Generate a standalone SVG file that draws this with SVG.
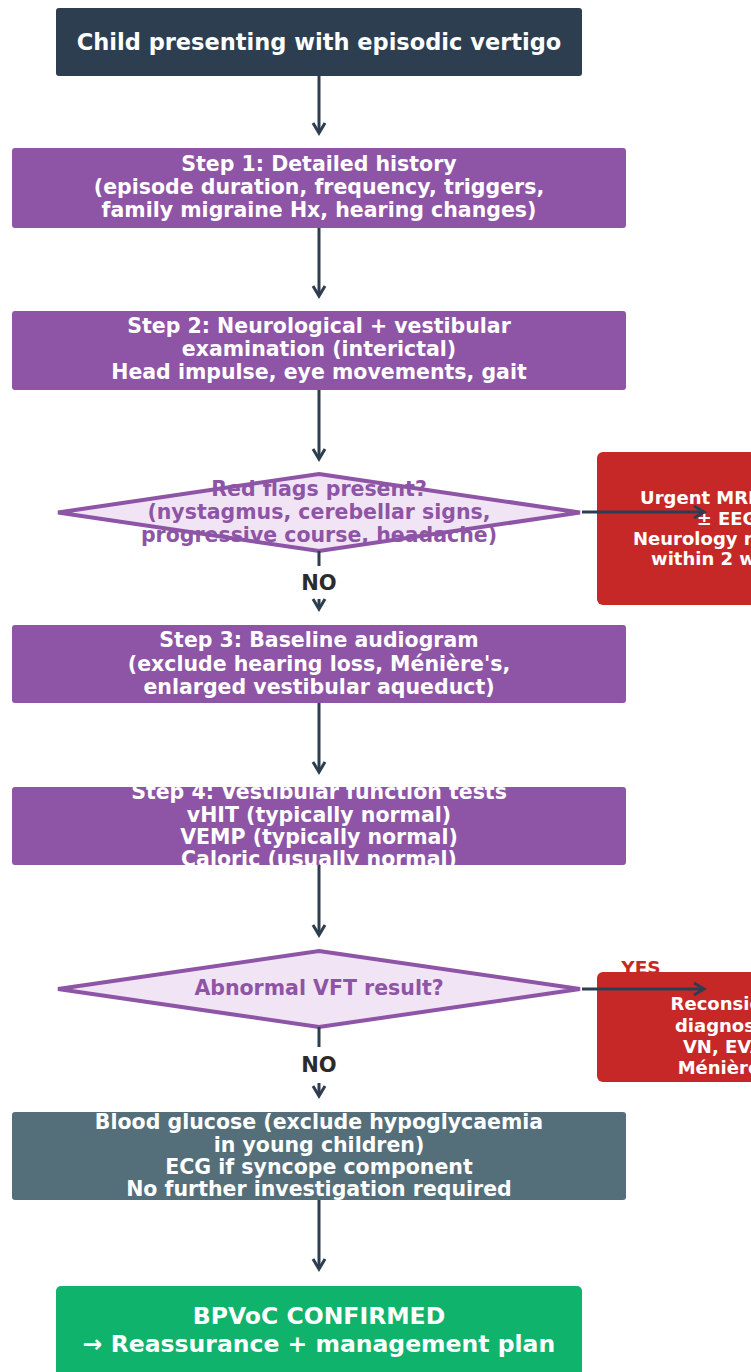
<svg xmlns="http://www.w3.org/2000/svg" width="751" height="1372" viewBox="0 0 751 1372">
  <style>
    text { font-family: "DejaVu Sans", "Liberation Sans", sans-serif; font-weight: bold; text-anchor: middle; }
    .w { fill: #ffffff; }
    .step { font-size: 20.5px; }
    .dq { font-size: 20.5px; fill: #8e54a6; }
    .red { font-size: 18px; }
    .lbl { font-size: 21px; fill: #2b2b2b; }
    .yes { font-size: 18.5px; fill: #c62828; }
    .box { stroke: none; }
    .purple { fill: #8e54a6; }
    .alert { fill: #c62828; }
    .diamond { fill: #f1e5f5; stroke: #8e54a6; stroke-width: 4; stroke-linejoin: miter; }
    .conn { fill: none; stroke: #2c3e50; stroke-width: 3; }
  </style>
  <defs>
    <marker id="head" markerUnits="userSpaceOnUse" viewBox="-12 -8 14 16" markerWidth="14" markerHeight="16" refX="0" refY="0" orient="auto" overflow="visible">
      <path d="M-10,-6 L0,0 L-10,6" fill="none" stroke="#2c3e50" stroke-width="3"/>
    </marker>
  </defs>

  <rect width="751" height="1372" fill="#ffffff"/>

  <!-- start -->
  <g id="start">
    <rect class="box" x="56" y="8" width="526" height="68" rx="3" fill="#2c3e50"/>
    <text class="w" x="319" y="50" font-size="22.5">Child presenting with episodic vertigo</text>
  </g>

  <!-- step 1 -->
  <g id="step1">
    <rect class="box purple" x="12" y="148" width="614" height="80" rx="3"/>
    <text class="w step" x="319" y="171.4">Step 1: Detailed history</text>
    <text class="w step" x="319" y="194.4">(episode duration, frequency, triggers,</text>
    <text class="w step" x="319" y="217.4">family migraine Hx, hearing changes)</text>
  </g>

  <!-- step 2 -->
  <g id="step2">
    <rect class="box purple" x="12" y="311" width="614" height="79" rx="3"/>
    <text class="w step" x="319" y="333.4">Step 2: Neurological + vestibular</text>
    <text class="w step" x="319" y="356.4">examination (interictal)</text>
    <text class="w step" x="319" y="379.4">Head impulse, eye movements, gait</text>
  </g>

  <!-- decision: red flags -->
  <g id="redflags">
    <polygon class="diamond" points="319,474 580,512.5 319,551 58,512.5"/>
    <text class="dq" x="319" y="496.4">Red flags present?</text>
    <text class="dq" x="319" y="519.4">(nystagmus, cerebellar signs,</text>
    <text class="dq" x="319" y="542.4">progressive course, headache)</text>
  </g>

  <!-- urgent referral -->
  <g id="urgent">
    <rect class="box alert" x="597" y="452" width="262" height="153" rx="6"/>
    <text class="w red" x="727" y="503.5">Urgent MRI brain</text>
    <text class="w red" x="727" y="524.5">±  EEG</text>
    <text class="w red" x="727" y="544.5">Neurology referral</text>
    <text class="w red" x="727" y="564.5">within 2 weeks</text>
  </g>

  <!-- step 3 -->
  <g id="step3">
    <rect class="box purple" x="12" y="625" width="614" height="78" rx="3"/>
    <text class="w step" x="319" y="647.4">Step 3: Baseline audiogram</text>
    <text class="w step" x="319" y="671.4">(exclude hearing loss, Ménière's,</text>
    <text class="w step" x="319" y="694.4">enlarged vestibular aqueduct)</text>
  </g>

  <!-- step 4 -->
  <g id="step4">
    <rect class="box purple" x="12" y="787" width="614" height="78" rx="3"/>
    <text class="w step" x="319" y="799.4">Step 4: Vestibular function tests</text>
    <text class="w step" x="319" y="822.4">vHIT (typically normal)</text>
    <text class="w step" x="319" y="844.4">VEMP (typically normal)</text>
    <text class="w step" x="319" y="866.4">Caloric (usually normal)</text>
  </g>

  <!-- decision: VFT -->
  <g id="vft">
    <polygon class="diamond" points="319,951 580,989 319,1027 58,989"/>
    <text class="dq" x="319" y="995.4">Abnormal VFT result?</text>
  </g>

  <!-- reconsider -->
  <g id="reconsider">
    <rect class="box alert" x="597" y="972" width="262" height="110" rx="6"/>
    <text class="w red" x="727" y="1009.5">Reconsider</text>
    <text class="w red" x="727" y="1031.5">diagnosis:</text>
    <text class="w red" x="727" y="1052.5">VN, EVA,</text>
    <text class="w red" x="727" y="1073.5">Ménière's</text>
  </g>

  <!-- further checks -->
  <g id="checks">
    <rect class="box" x="12" y="1112" width="614" height="88" rx="3" fill="#546e7a"/>
    <text class="w step" x="319" y="1129.4">Blood glucose (exclude hypoglycaemia</text>
    <text class="w step" x="319" y="1152.4">in young children)</text>
    <text class="w step" x="319" y="1174.4">ECG if syncope component</text>
    <text class="w step" x="319" y="1196.4">No further investigation required</text>
  </g>

  <!-- outcome -->
  <g id="confirmed">
    <rect class="box" x="56" y="1286" width="526" height="96" rx="5" fill="#10b36b"/>
    <text class="w" x="319" y="1323.5" font-size="23.5">BPVoC CONFIRMED</text>
    <text class="w" x="319" y="1351.5" font-size="23.5">→ Reassurance + management plan</text>
  </g>

  <!-- connectors -->
  <g id="connectors">
    <path class="conn" d="M319,76 V133" marker-end="url(#head)"/>
    <path class="conn" d="M319,228 V296" marker-end="url(#head)"/>
    <path class="conn" d="M319,390 V459" marker-end="url(#head)"/>
    <path class="conn" d="M582,512 H704" marker-end="url(#head)"/>
    <path class="conn" d="M319,551 V566"/>
    <text class="lbl" x="319" y="589.7">NO</text>
    <path class="conn" d="M319,599 V609" marker-end="url(#head)"/>
    <path class="conn" d="M319,703 V772" marker-end="url(#head)"/>
    <path class="conn" d="M319,865 V935" marker-end="url(#head)"/>
    <text class="yes" x="641" y="973.7">YES</text>
    <path class="conn" d="M582,989 H704" marker-end="url(#head)"/>
    <path class="conn" d="M319,1027 V1047"/>
    <text class="lbl" x="319" y="1071.7">NO</text>
    <path class="conn" d="M319,1083 V1096" marker-end="url(#head)"/>
    <path class="conn" d="M319,1200 V1269" marker-end="url(#head)"/>
  </g>
</svg>
